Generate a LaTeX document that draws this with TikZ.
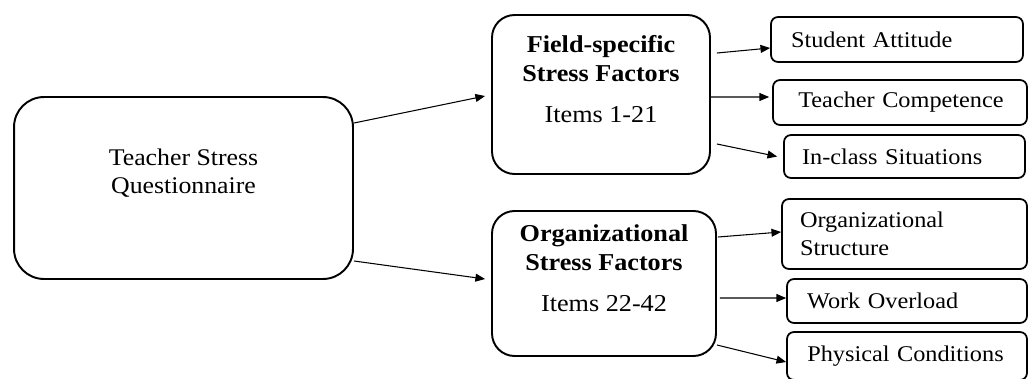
\documentclass[tikz,border=0pt]{standalone}
\usepackage{fontspec}
\setmainfont{Liberation Serif}[FakeStretch=1.08]
\usetikzlibrary{positioning,arrows.meta,calc}

\begin{document}
\begin{tikzpicture}[
  x=0.02cm, y=-0.02cm,
  font=\fontsize{12.8pt}{16pt}\selectfont,
  >={Triangle[length=5.5pt,width=4.5pt]},
  mainbox/.style={draw=black, line width=1.1pt, rounded corners=0.6cm, align=center},
  factorbox/.style={draw=black, line width=1.1pt, rounded corners=0.45cm, align=center,
    font=\fontsize{13.8pt}{16.5pt}\selectfont},
  leafbox/.style={draw=black, line width=1pt, rounded corners=0.14cm, align=left, inner xsep=0.4cm, inner ysep=0pt},
  link/.style={->, draw=black, line width=0.6pt}
]
  \useasboundingbox (0,0) rectangle (1029,379);

  % root and the two factor groups
  \node[mainbox, minimum width=6.78cm, minimum height=3.64cm] (tsq) at (183.5,188)
    {\fontsize{13.6pt}{19pt}\selectfont Teacher Stress\\ \fontsize{13.6pt}{19pt}\selectfont Questionnaire\\[3pt]};
  \node[factorbox, minimum width=4.36cm, minimum height=3.18cm] (field) at (601,94.5)
    {\textbf{Field-specific}\\ \textbf{Stress Factors}\\[7pt] Items 1-21\\[1pt]};
  \node[factorbox, minimum width=4.48cm, minimum height=2.90cm] (orgn) at (604,283.5)
    {\textbf{Organizational}\\ \textbf{Stress Factors}\\[7pt] Items 22-42\\[1pt]};

  % field-specific factors
  \node[leafbox, text width=4.24cm, minimum height=0.90cm] (student) at (897,39.5) {Student Attitude};
  \node[leafbox, text width=4.28cm, minimum height=0.90cm] (teacher) at (900,102.5) {\hspace{3pt}Teacher Competence};
  \node[leafbox, text width=4.10cm, minimum height=0.86cm, inner xsep=0.36cm] (inclass) at (904.5,156.5) {In-class Situations};

  % organizational factors
  \node[leafbox, text width=4.18cm, minimum height=1.40cm, inner xsep=0.36cm] (orgstruct) at (904.5,234)
    {Organizational\\ Structure};
  \node[leafbox, text width=4.00cm, minimum height=0.88cm] (overload) at (907,301) {Work Overload};
  \node[leafbox, text width=4.20cm, minimum height=0.96cm, inner xsep=0.3cm] (physical) at (907,356) {\hspace{3pt}Physical Conditions};

  \draw[link] ([yshift=1.3cm]tsq.east) -- ([xshift=-0.12cm,yshift=-0.03cm]field.west);
  \draw[link] ([yshift=-1.46cm]tsq.east) -- ([xshift=-0.12cm,yshift=0.09cm]orgn.west);

  \draw[link] ([xshift=0.12cm,yshift=0.83cm]field.east) -- ([yshift=-0.17cm]student.west);
  \draw[link] ([yshift=-0.05cm]field.east) -- ([xshift=-0.06cm,yshift=0.11cm]teacher.west);
  \draw[link] ([xshift=0.12cm,yshift=-0.99cm]field.east) -- ([xshift=-0.12cm]inclass.west);

  \draw[link] ([xshift=0.02cm,yshift=0.93cm]orgn.east) -- ([yshift=0.04cm]orgstruct.west);
  \draw[link] ([xshift=0.06cm,yshift=-0.29cm]orgn.east) -- ([yshift=0.06cm]overload.west);
  \draw[link] ([yshift=-1.23cm]orgn.east) -- ([yshift=-0.12cm]physical.west);
\end{tikzpicture}
\end{document}
